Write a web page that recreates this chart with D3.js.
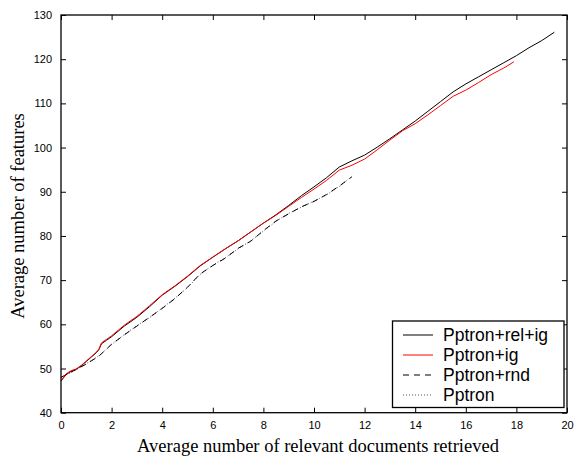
<!DOCTYPE html>
<html>
<head>
<meta charset="utf-8">
<script src="https://cdnjs.cloudflare.com/ajax/libs/d3/7.8.5/d3.min.js"></script>
<style>
  body { margin: 0; background: #fff; }
  svg { display: block; }
</style>
</head>
<body>
<div id="chart"></div>
<script>
// DATA ***********************************************************************
const relIgX = [0, 0.2, 0.4, 0.6, 0.8, 1.0, 1.2, 1.4, 1.5, 1.6, 1.8, 2.0, 2.5, 3.0, 3.5, 4.0, 4.5, 5.0, 5.5, 6.0, 6.5, 7.0, 7.5, 8.0, 8.5, 9.0, 9.5, 10, 10.5, 11, 11.5, 12, 12.5, 13, 13.5, 14, 14.5, 15, 15.5, 16, 16.5, 17, 17.5, 18, 18.5, 19, 19.5];
const relIgY = [47.2, 48.6, 49.4, 49.8, 50.6, 51.6, 52.6, 53.6, 54.3, 55.6, 56.4, 57.2, 59.6, 61.6, 64.0, 66.6, 68.6, 70.8, 73.2, 75.2, 77.1, 78.9, 80.9, 82.9, 84.8, 86.9, 89.1, 91.1, 93.2, 95.6, 97.0, 98.3, 100.1, 102.0, 104.0, 106.0, 108.2, 110.4, 112.6, 114.4, 116.0, 117.6, 119.2, 120.8, 122.6, 124.2, 126.1];

const igX = [0, 0.2, 0.4, 0.6, 0.8, 1.0, 1.2, 1.4, 1.5, 1.6, 1.8, 2.0, 2.5, 3.0, 3.5, 4.0, 4.5, 5.0, 5.5, 6.0, 6.5, 7.0, 7.5, 8.0, 8.5, 9.0, 9.5, 10, 10.5, 11, 11.5, 12, 12.5, 13, 13.5, 14, 14.5, 15, 15.5, 16, 16.5, 17, 17.5, 17.9];
const igY = [47.2, 48.8, 49.5, 49.9, 50.7, 51.7, 52.7, 53.7, 54.4, 55.8, 56.6, 57.4, 59.8, 61.8, 64.2, 66.7, 68.7, 70.9, 73.3, 75.2, 77.1, 78.9, 80.9, 82.9, 84.7, 86.7, 88.7, 90.6, 92.6, 94.9, 96.0, 97.4, 99.5, 101.7, 103.8, 105.4, 107.4, 109.5, 111.6, 113.0, 114.7, 116.5, 118.0, 119.4];

const rndX = [0, 0.5, 1.0, 1.5, 2.0, 2.5, 3.0, 3.5, 4.0, 4.5, 5.0, 5.5, 6.0, 6.5, 7.0, 7.5, 8.0, 8.5, 9.0, 9.5, 10, 10.5, 11, 11.5];
const rndY = [48.0, 49.5, 51.0, 52.8, 55.5, 57.6, 59.6, 61.6, 63.6, 65.8, 68.4, 71.4, 73.3, 75.0, 77.2, 78.8, 81.2, 83.4, 85.0, 86.6, 87.8, 89.4, 91.3, 93.4];

const pptronX = [0, 0.5, 1.0, 1.5, 2.0, 2.5, 3.0, 3.5, 4.0, 4.5, 5.0, 5.5, 6.0, 6.5, 7.0, 7.5, 8.0, 8.5, 9.0, 9.5, 10, 10.5, 11, 11.4];
const pptronY = [48.0, 49.4, 51.1, 52.9, 55.4, 57.7, 59.7, 61.5, 63.7, 65.9, 68.3, 71.3, 73.4, 75.1, 77.1, 78.9, 81.1, 83.3, 85.1, 86.5, 87.9, 89.3, 91.2, 93.0];

const seriesNames = ["Pptron+rel+ig", "Pptron+ig", "Pptron+rnd", "Pptron"];
const xTicks = [0, 2, 4, 6, 8, 10, 12, 14, 16, 18, 20];
const yTicks = [40, 50, 60, 70, 80, 90, 100, 110, 120, 130];

// LAYOUT *********************************************************************
const W = 574, H = 456;
const m = {left: 61, top: 15, right: 567, bottom: 412.7};

const svg = d3.select("#chart").append("svg")
  .attr("width", W).attr("height", H);

const x = d3.scaleLinear().domain([0, 20]).range([m.left, m.right]);
const y = d3.scaleLinear().domain([40, 130]).range([m.bottom, m.top]);

const series = [
  {name: seriesNames[3], xs: pptronX, ys: pptronY, color: "#555", dash: "1,2"},
  {name: seriesNames[2], xs: rndX, ys: rndY, color: "#000", dash: "6,5"},
  {name: seriesNames[0], xs: relIgX, ys: relIgY, color: "#000", dash: null},
  {name: seriesNames[1], xs: igX, ys: igY, color: "#ff0000", dash: null}
];

const line = d3.line().x(d => x(d[0])).y(d => y(d[1]));

series.forEach(s => {
  svg.append("path")
    .datum(s.xs.map((v, i) => [v, s.ys[i]]))
    .attr("fill", "none")
    .attr("stroke", s.color)
    .attr("stroke-width", 1)
    .attr("stroke-dasharray", s.dash)
    .attr("d", line);
});

// AXES (matlab style, ticks inside on all sides) *****************************
const tickFont = "'Liberation Sans', Arial, sans-serif";
svg.append("g").attr("transform", `translate(0,${m.bottom})`)
  .call(d3.axisBottom(x).tickValues(xTicks).tickSizeInner(-5).tickSizeOuter(0).tickPadding(9))
  .call(g => g.select(".domain").remove());
svg.append("g").attr("transform", `translate(0,${m.top})`)
  .call(d3.axisTop(x).tickValues(xTicks).tickSizeInner(-5).tickSizeOuter(0).tickFormat(""))
  .call(g => g.select(".domain").remove());
svg.append("g").attr("transform", `translate(${m.left},0)`)
  .call(d3.axisLeft(y).tickValues(yTicks).tickSizeInner(-5).tickSizeOuter(0).tickPadding(9))
  .call(g => g.select(".domain").remove());
svg.append("g").attr("transform", `translate(${m.right},0)`)
  .call(d3.axisRight(y).tickValues(yTicks).tickSizeInner(-5).tickSizeOuter(0).tickFormat(""))
  .call(g => g.select(".domain").remove());

svg.selectAll(".tick text").attr("font-family", tickFont).attr("font-size", 11).attr("fill", "#000");
svg.selectAll(".tick line").attr("stroke", "#000");

svg.append("rect")
  .attr("x", m.left).attr("y", m.top)
  .attr("width", m.right - m.left).attr("height", m.bottom - m.top)
  .attr("fill", "none").attr("stroke", "#000").attr("stroke-width", 1.3);

// LABELS *********************************************************************
const serif = "'Liberation Serif', 'Times New Roman', serif";
svg.append("text")
  .attr("x", 318).attr("y", 451.5)
  .attr("text-anchor", "middle")
  .attr("font-family", serif).attr("font-size", 18.5)
  .text("Average number of relevant documents retrieved");
svg.append("text")
  .attr("transform", `translate(24,216) rotate(-90)`)
  .attr("text-anchor", "middle")
  .attr("font-family", serif).attr("font-size", 18.5)
  .text("Average number of features");

// LEGEND *********************************************************************
const leg = svg.append("g");
leg.append("rect")
  .attr("x", 392.5).attr("y", 321).attr("width", 171.5).attr("height", 86.5)
  .attr("fill", "#fff").attr("stroke", "#000").attr("stroke-width", 1.3);
const legItems = [series[2], series[3], series[1], series[0]];
legItems.forEach((s, i) => {
  const yy = 335 + i * 20;
  leg.append("line")
    .attr("x1", 403).attr("x2", 433).attr("y1", yy).attr("y2", yy)
    .attr("stroke", s.color).attr("stroke-width", 1)
    .attr("stroke-dasharray", s.dash);
  leg.append("text")
    .attr("x", 443).attr("y", yy + 6)
    .attr("font-family", tickFont).attr("font-size", 17.5)
    .text(s.name);
});
</script>
</body>
</html>
